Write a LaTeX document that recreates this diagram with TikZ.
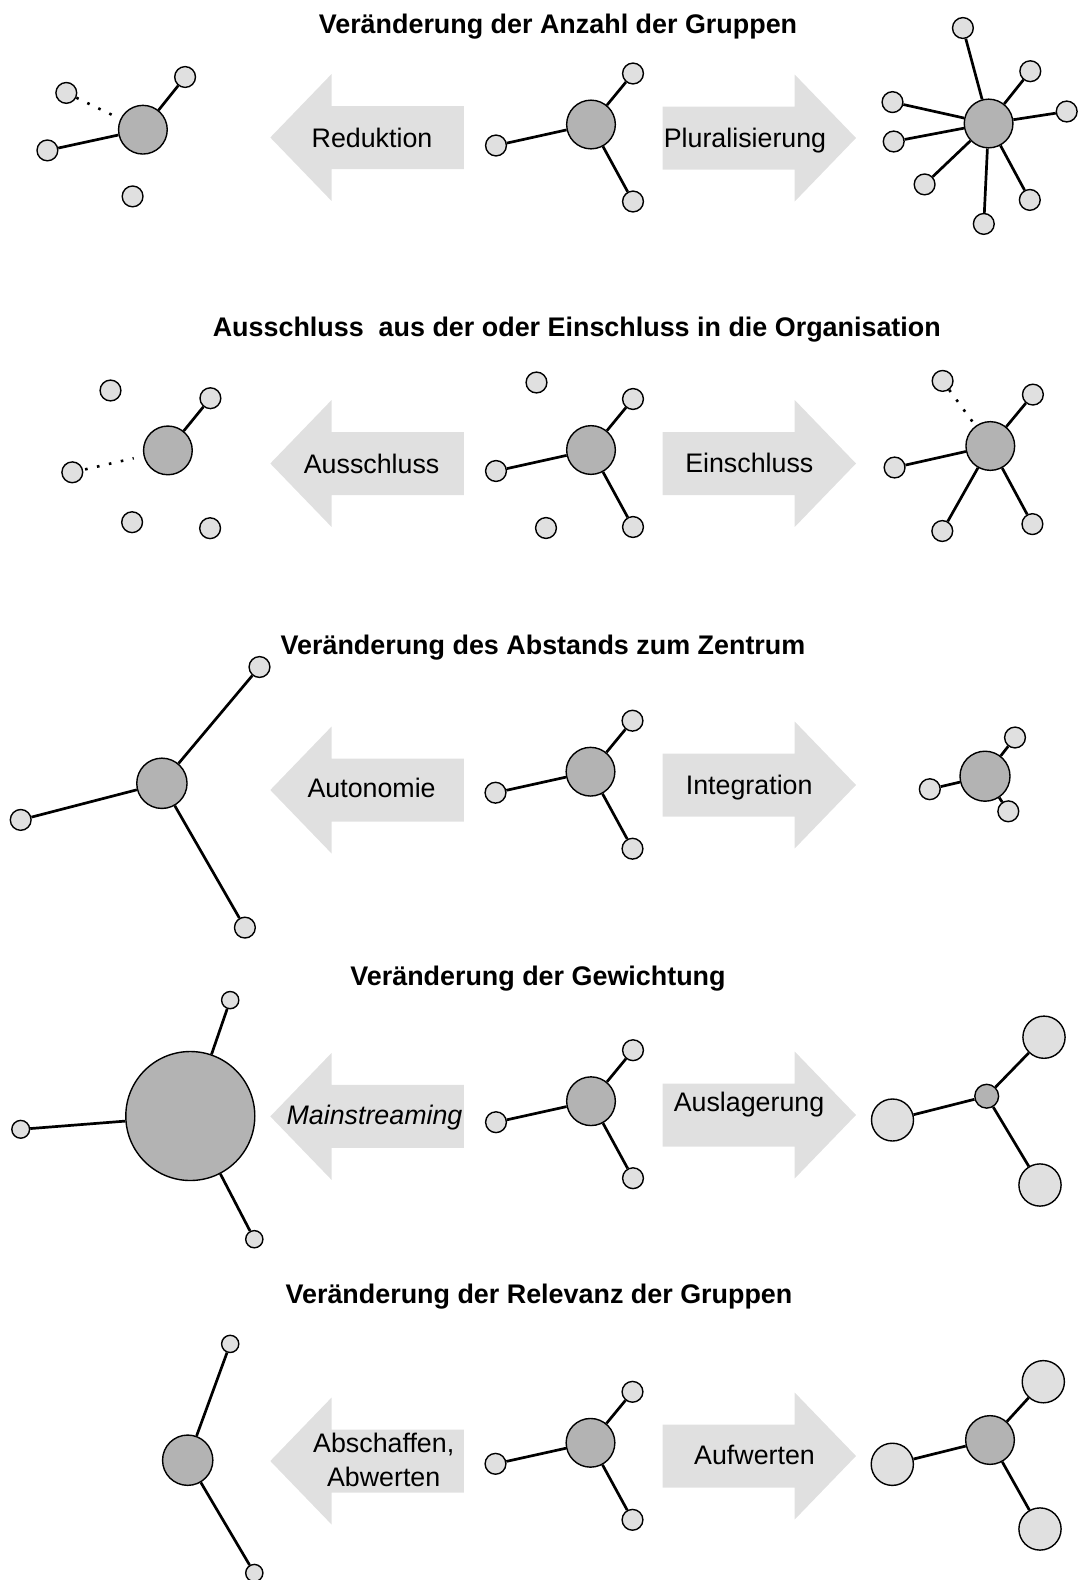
\documentclass[tikz,border=0pt]{standalone}
\usepackage{fontspec}
\setmainfont{Liberation Sans}
\definecolor{nodelight}{RGB}{224,224,224}
\definecolor{nodecore}{RGB}{179,179,179}
\definecolor{arrowfill}{RGB}{224,224,224}

\begin{document}
\begin{tikzpicture}[x=1pt,y=-1pt,
  sm/.style={circle,draw=black,line width=1.4pt,fill=nodelight,inner sep=0pt,minimum size=#1},
  sm/.default=20.8pt,
  core/.style={circle,draw=black,line width=1.4pt,fill=nodecore,inner sep=0pt,minimum size=#1},
  core/.default=48.7pt,
  edge/.style={line width=2.7pt},
  dots/.style={line width=2.6pt,dash pattern=on 2.6pt off 9.6pt},
  lbl/.style={font=\fontsize{26.8}{34.4}\selectfont,text height=19pt,text depth=0pt,inner sep=0pt},
  ttl/.style={font=\fontsize{26.9}{32}\selectfont\bfseries,text height=19pt,text depth=0pt,inner sep=0pt},
  lshape/.pic={\fill[arrowfill] (0,-31.5) -- (-132.3,-31.5) -- (-132.3,-63.5) -- (-193.6,0)
                 -- (-132.3,63.5) -- (-132.3,31.5) -- (0,31.5) -- cycle;},
  rshape/.pic={\fill[arrowfill] (0,-31.5) -- (132,-31.5) -- (132,-63.5) -- (193.3,0)
                 -- (132,63.5) -- (132,31.5) -- (0,31.5) -- cycle;}
]
\useasboundingbox (0,0) rectangle (1078,1580);

% ---------- middle network, the same in every row ----------
\newcommand\midnet[3]{%
  \begin{scope}[shift={(#2,#3)}]
    \node[core] (#1c) at (0,0) {};
    \node[sm] (#1t) at (42,-51) {};
    \node[sm] (#1b) at (42,77) {};
    \node[sm] (#1l) at (-95,21) {};
    \draw[edge] (#1c) -- (#1t);
    \draw[edge] (#1c) -- (#1b);
    \draw[edge] (#1c) -- (#1l);
  \end{scope}}

% ================= row 1 =================
\node[ttl] (t1) at (558,24) {Veränderung der Anzahl der Gruppen};
\pic at (463.9,137.5) {lshape};
\pic at (662.7,138) {rshape};
\node[lbl] (l1a) at (372,137.8) {Reduktion};
\node[lbl] (l1b) at (745,138) {Pluralisierung};

\node[core] (a1c) at (142.9,129.7) {};
\node[sm] (a1t) at (185.1,77) {};
\node[sm] (a1u) at (66.3,92.9) {};
\node[sm] (a1l) at (47.4,150.4) {};
\node[sm] (a1b) at (132.6,196.4) {};
\draw[edge] (a1c) -- (a1t);
\draw[edge] (a1c) -- (a1l);
\draw[dots,shorten >=8pt] (a1u) -- (a1c);

\midnet{m1}{591}{124.5}

\node[core] (c1c) at (988.6,123.5) {};
\node[sm] (c1n1) at (962.9,28) {};
\node[sm] (c1n2) at (1030.3,71.2) {};
\node[sm] (c1n3) at (1066.7,111.5) {};
\node[sm] (c1n4) at (892.5,102.1) {};
\node[sm] (c1n5) at (893.7,141.5) {};
\node[sm] (c1n6) at (924.6,184.4) {};
\node[sm] (c1n7) at (983.8,223.9) {};
\node[sm] (c1n8) at (1029.8,199.9) {};
\foreach \k in {1,...,8} {\draw[edge] (c1c) -- (c1n\k);}

% ================= row 2 =================
\node[ttl] (t2) at (576.8,327.4) {Ausschluss\ \ aus der oder Einschluss in die Organisation};
\pic at (463.9,463.5) {lshape};
\pic at (662.7,463.5) {rshape};
\node[lbl] (l2a) at (371.6,463.5) {Ausschluss};
\node[lbl] (l2b) at (749.3,463.3) {Einschluss};

\node[core] (a2c) at (167.9,450.4) {};
\node[sm] (a2t) at (210.4,398.2) {};
\node[sm] (a2u) at (110.5,390.5) {};
\node[sm] (a2l) at (72.3,472.3) {};
\node[sm] (a2v) at (132.1,522.2) {};
\node[sm] (a2w) at (210.1,528.2) {};
\draw[edge] (a2c) -- (a2t);
\draw[dots,shorten <=2pt,shorten >=10pt] (a2l) -- (a2c);

\midnet{m2}{591}{450}
\node[sm] (m2u) at (536.5,382.5) {};
\node[sm] (m2v) at (546,528) {};

\node[core] (c2c) at (990.3,446) {};
\node[sm] (c2u) at (942.6,380.9) {};
\node[sm] (c2t) at (1032.9,394.6) {};
\node[sm] (c2l) at (894.6,467.5) {};
\node[sm] (c2v) at (942.3,531) {};
\node[sm] (c2w) at (1032.4,524.1) {};
\draw[edge] (c2c) -- (c2t);
\draw[edge] (c2c) -- (c2l);
\draw[edge] (c2c) -- (c2v);
\draw[edge] (c2c) -- (c2w);
\draw[dots] (c2u) -- (c2c);

% ================= row 3 =================
\node[ttl] (t3) at (543,644.8) {Veränderung des Abstands zum Zentrum};
\pic at (463.9,790) {lshape};
\pic at (662.7,785) {rshape};
\node[lbl] (l3a) at (371.6,788) {Autonomie};
\node[lbl] (l3b) at (749.2,785) {Integration};

\node[core=50.3pt] (a3c) at (161.9,783.3) {};
\node[sm] (a3t) at (259.5,667) {};
\node[sm] (a3l) at (20.7,819.9) {};
\node[sm] (a3b) at (244.9,927.6) {};
\draw[edge] (a3c) -- (a3t);
\draw[edge] (a3c) -- (a3l);
\draw[edge] (a3c) -- (a3b);

\midnet{m3}{590.5}{771.7}

\node[core=50pt] (c3c) at (985,776.2) {};
\node[sm] (c3t) at (1015,737.5) {};
\node[sm] (c3l) at (929.8,789.2) {};
\node[sm] (c3b) at (1008.3,811.3) {};
\draw[edge] (c3c) -- (c3t);
\draw[edge] (c3c) -- (c3l);
\draw[edge] (c3c) -- (c3b);

% ================= row 4 =================
\node[ttl] (t4) at (538,976.3) {Veränderung der Gewichtung};
\pic at (463.9,1116.4) {lshape};
\pic at (662.7,1115) {rshape};
\node[lbl,font=\fontsize{26.8}{34.4}\selectfont\itshape] (l4a) at (374.5,1114.6) {Mainstreaming};
\node[lbl] (l4b) at (749,1102) {Auslagerung};

\node[core=129pt] (a4c) at (190.3,1116) {};
\node[sm=17.2pt] (a4t) at (230.2,1000.1) {};
\node[sm=17.8pt] (a4l) at (20.7,1129.3) {};
\node[sm=17.2pt] (a4b) at (254.3,1239.2) {};
\draw[edge] (a4c) -- (a4t);
\draw[edge] (a4c) -- (a4l);
\draw[edge] (a4c) -- (a4b);

\midnet{m4}{591}{1101.2}

\node[core=23.8pt] (c4c) at (986.7,1096.2) {};
\node[sm=42.2pt] (c4t) at (1044,1037.2) {};
\node[sm=42pt] (c4l) at (892.5,1120) {};
\node[sm=42.2pt] (c4b) at (1040,1185) {};
\draw[edge] (c4c) -- (c4t);
\draw[edge] (c4c) -- (c4l);
\draw[edge] (c4c) -- (c4b);

% ================= row 5 =================
\node[ttl] (t5) at (539,1293.6) {Veränderung der Relevanz der Gruppen};
\pic at (463.9,1461) {lshape};
\pic at (662.7,1456) {rshape};
\node[font=\fontsize{26.8}{34.4}\selectfont,align=center,inner sep=0pt] (l5a) at (383.7,1459.8) {Abschaffen,\\Abwerten};
\node[lbl] (l5b) at (754.5,1455) {Aufwerten};

\node[core=50.3pt] (a5c) at (187.7,1460.2) {};
\node[sm=17.2pt] (a5t) at (230.2,1343.9) {};
\node[sm=17.2pt] (a5b) at (254.3,1573) {};
\draw[edge] (a5c) -- (a5t);
\draw[edge] (a5c) -- (a5b);

\midnet{m5}{590.5}{1442.8}

\node[core] (c5c) at (990,1440) {};
\node[sm=42.2pt] (c5t) at (1043.3,1381.7) {};
\node[sm=42.2pt] (c5l) at (892.3,1464.3) {};
\node[sm=42.2pt] (c5b) at (1040,1529) {};
\draw[edge] (c5c) -- (c5t);
\draw[edge] (c5c) -- (c5l);
\draw[edge] (c5c) -- (c5b);
\end{tikzpicture}
\end{document}
